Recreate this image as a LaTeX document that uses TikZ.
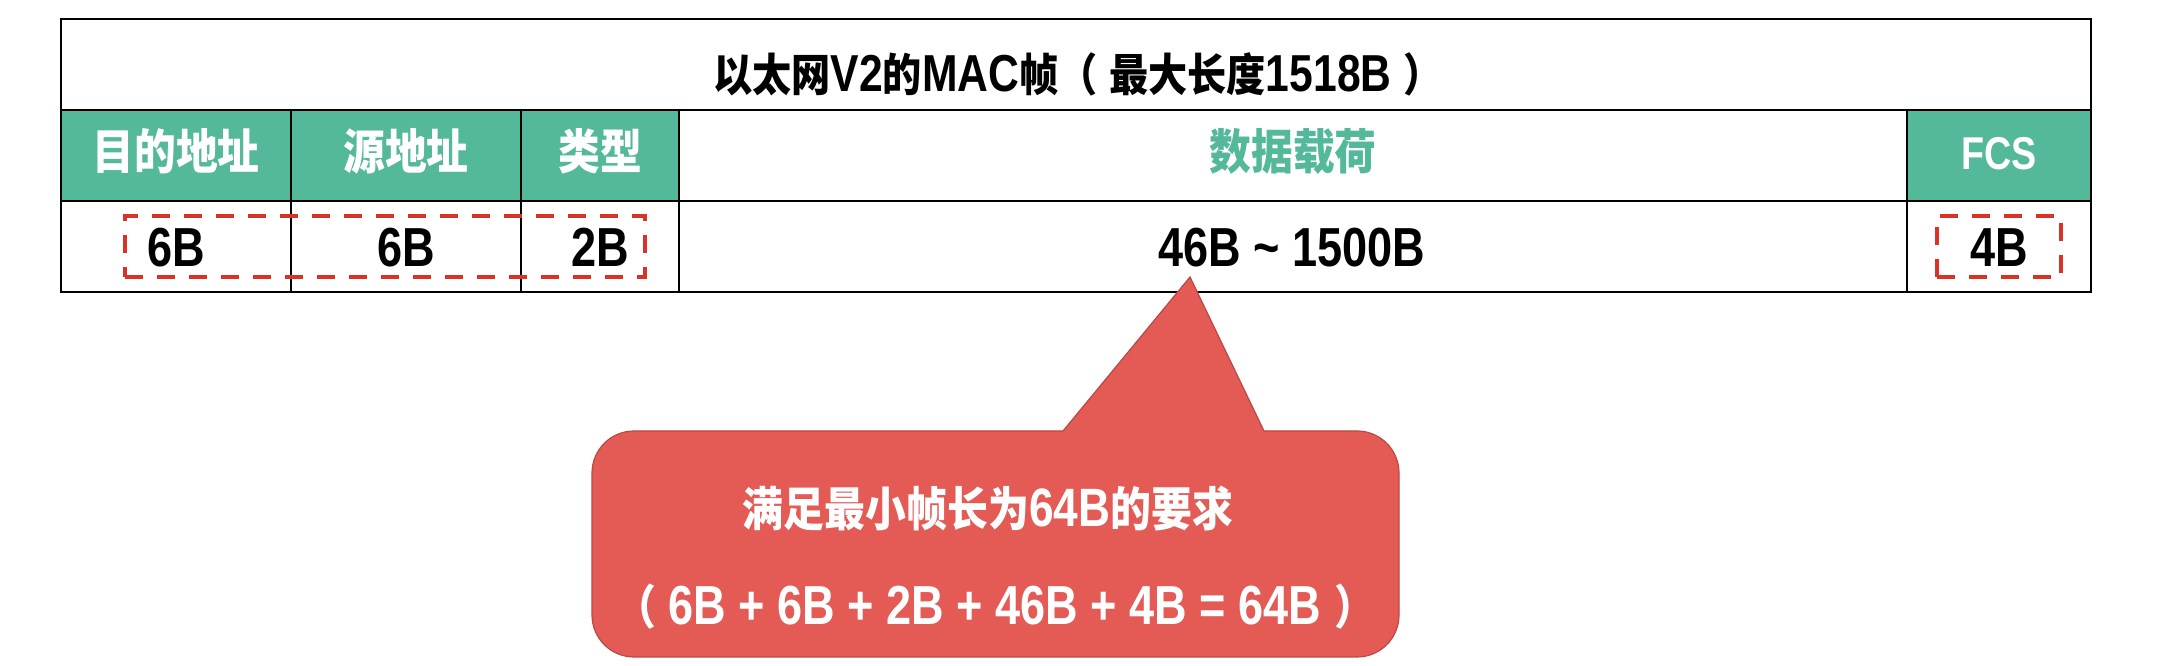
\documentclass[tikz,border=0pt]{standalone}
\usepackage{fontspec}
\setmainfont{Liberation Sans}[FakeStretch=0.82]
\newfontfamily\cjk{Noto Sans CJK SC}[FakeStretch=0.87]
\newcommand\C[2]{{\fontsize{#1}{#1}\cjk #2}}
\definecolor{hdrgreen}{RGB}{84,184,155}
\definecolor{dashred}{RGB}{217,50,38}
\definecolor{callfill}{RGB}{228,91,86}
\definecolor{callline}{RGB}{186,72,68}
\tikzset{
  grid/.style={draw=black,line width=2.5pt},
  ttl/.style={anchor=base,inner sep=0pt,font=\fontsize{52}{54}\selectfont\bfseries},
  hdr/.style={anchor=base,inner sep=0pt,font=\fontsize{46}{50}\selectfont\bfseries,text=white},
  val/.style={anchor=base,inner sep=0pt,font=\fontsize{55}{60}\selectfont\bfseries,text=black},
  dashbox/.style={draw=dashred,line width=4pt,dash pattern=on 18pt off 14pt},
  callout/.style={fill=callfill,draw=callline,line width=1.2pt},
  ctext/.style={anchor=base,inner sep=0pt,text=white}
}
\begin{document}
\begin{tikzpicture}[x=1pt,y=1pt]
\useasboundingbox[fill=white] (0,0) rectangle (2178,666);
% header fills
\fill[hdrgreen] (61,465) rectangle (679,556);
\fill[hdrgreen] (1907,465) rectangle (2091,556);
% grid
\draw[grid] (61,374) rectangle (2091,647);
\draw[grid] (61,556) -- (2091,556);
\draw[grid] (61,465) -- (2091,465);
\draw[grid] (291,374) -- (291,556);
\draw[grid] (521,374) -- (521,556);
\draw[grid] (679,374) -- (679,556);
\draw[grid] (1907,374) -- (1907,556);
% title
\node[ttl] (title) at (1078,574) {\C{45}{以太网}V2\C{45}{的}MAC\C{45}{帧（} \C{45}{最大长度}1518B \C{45}{）}};
% headers
\node[hdr] (h1) at (176,496) {\C{48}{目的地址}};
\node[hdr] (h2) at (406,496) {\C{48}{源地址}};
\node[hdr] (h3) at (600,496) {\C{48}{类型}};
\node[hdr,text=hdrgreen] (h4) at (1293,496) {\C{48}{数据载荷}};
\node[hdr] (h5) at (1999,496) {FCS};
% values
\node[val] (v1) at (176,399) {6B};
\node[val] (v2) at (406,399) {6B};
\node[val] (v3) at (600,399) {2B};
\node[val] (v4) at (1292,399) {46B \textasciitilde{} 1500B};
\node[val] (v5) at (1999,399) {4B};
% dashed boxes
\node[dashbox,minimum width=520pt,minimum height=61pt,inner sep=0pt] (d1) at (385,419.5) {};
\node[dashbox,minimum width=124pt,minimum height=61pt,inner sep=0pt] (d2) at (1999,419.5) {};
% callout
\draw[callout] (1063,235) -- (1190,389) -- (1264,235) -- (1357,235)
  arc[start angle=90,end angle=0,radius=42] -- (1399,51)
  arc[start angle=0,end angle=-90,radius=42] -- (634,9)
  arc[start angle=-90,end angle=-180,radius=42] -- (592,193)
  arc[start angle=180,end angle=90,radius=42] -- cycle;
\node[ctext,font=\fontsize{54}{60}\selectfont\bfseries] (c1) at (988,139) {\C{47}{满足最小帧长为}64B\C{47}{的要求}};
\node[ctext,font=\fontsize{55}{60}\selectfont\bfseries] (c2) at (995,41) {\C{47}{（} 6B + 6B + 2B + 46B + 4B = 64B \C{47}{）}};
\end{tikzpicture}
\end{document}
